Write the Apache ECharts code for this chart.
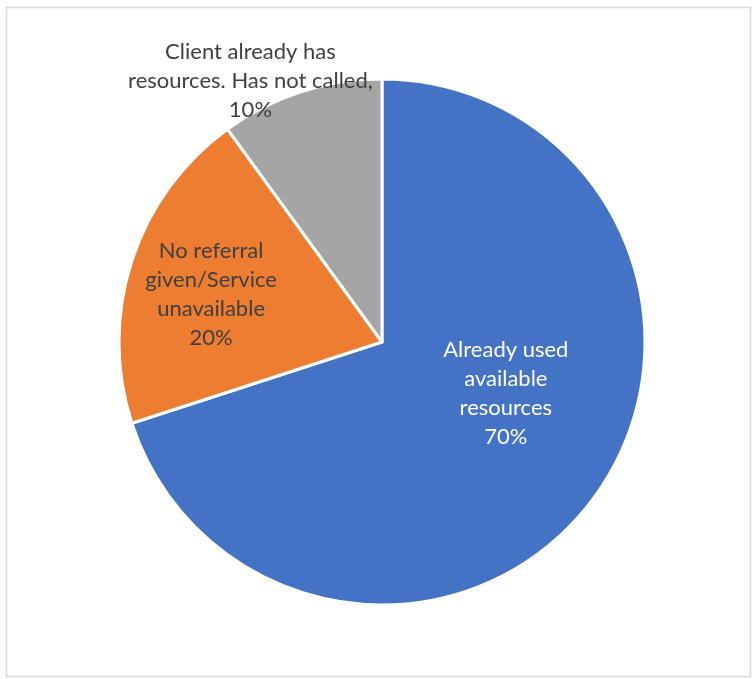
<!DOCTYPE html>
<html>
<head>
<meta charset="utf-8">
<script src="https://cdn.jsdelivr.net/npm/echarts@6/dist/echarts.min.js"></script>
<style>
html,body{margin:0;padding:0;background:#fff;}
#chart{width:752px;height:679px;}
</style>
</head>
<body>
<div id="chart"></div>
<script>
const categories = ['Already used\navailable\nresources', 'No referral\ngiven/Service\nunavailable', 'Client already has\nresources. Has not called,'];
const values = [70, 20, 10];
const colors = ['#4472C4', '#ED7D31', '#A5A5A5'];
const labelColors = ['#FFFFFF', '#404040', '#404040'];
const labelSeparators = ['\n', '\n', '\n'];
const labelShift = [[15, -28], [-43, -6], [-90, -133]];

const chart = echarts.init(document.getElementById('chart'));
chart.setOption({
  animation: false,
  graphic: [{
    type: 'rect',
    shape: { x: 6.5, y: 7.5, width: 744, height: 669 },
    style: { fill: 'none', stroke: '#D9D9D9', lineWidth: 1.5 }
  }],
  series: [{
    type: 'pie',
    center: [382, 342],
    radius: [0, 263],
    startAngle: 90,
    clockwise: true,
    itemStyle: { borderColor: '#FFFFFF', borderWidth: 3 },
    label: {
      show: true,
      position: 'inside',
      fontFamily: 'Lato',
      fontSize: 22,
      lineHeight: 29,
      align: 'center',
      formatter: function (p) {
        return p.name + labelSeparators[p.dataIndex] + p.value + '%';
      }
    },
    labelLine: { show: false },
    labelLayout: function (p) {
      return { dx: labelShift[p.dataIndex][0], dy: labelShift[p.dataIndex][1] };
    },
    emphasis: { disabled: true },
    data: categories.map(function (c, i) {
      return {
        name: c,
        value: values[i],
        itemStyle: { color: colors[i] },
        label: { color: labelColors[i] }
      };
    })
  }]
});
</script>
</body>
</html>
